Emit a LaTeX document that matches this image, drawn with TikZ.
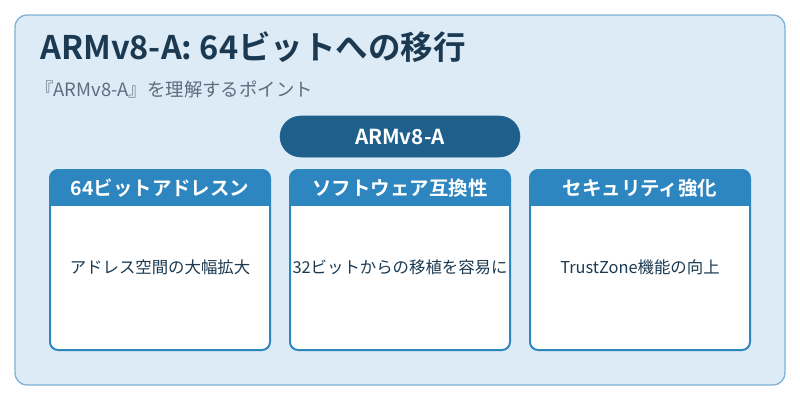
\documentclass[tikz,border=0pt]{standalone}
\usepackage{fontspec}
\setmainfont{Noto Sans CJK JP}
\newfontfamily\jpbold{Noto Sans CJK JP}[UprightFont=* Bold]
\usetikzlibrary{positioning}
\definecolor{bgblue}{HTML}{DCEBF6}
\definecolor{edgeblue}{HTML}{7FB3D5}
\definecolor{headblue}{HTML}{2E86C1}
\definecolor{pillblue}{HTML}{1F5F8B}
\definecolor{titledark}{HTML}{1B3A52}
\definecolor{subgray}{HTML}{5D6D7E}
\tikzset{
  card/.style={draw=headblue, line width=1.5pt, rounded corners=6pt},
  cardhead/.style={text=white, font=\jpbold\fontsize{14.6}{17}\selectfont},
  cardtext/.style={text=titledark, font=\fontsize{12.3}{14}\selectfont}
}
\begin{document}
\begin{tikzpicture}[x=0.75pt,y=-0.75pt]
	\useasboundingbox (0,0) rectangle (800,400);
	\draw [edgeblue, fill=bgblue, line width=1pt, rounded corners=9pt] (15,15) rectangle (785,385);
	\node [anchor=west, inner sep=0pt, text=titledark, font=\jpbold\fontsize{24.4}{28}\selectfont] (title) at (40,47) {ARMv8-A: 64ビットへの移行};
	\node [anchor=west, inner sep=0pt, text=subgray, font=\fontsize{13.8}{16}\selectfont] (sub) at (35,89) {『ARMv8-A』を理解するポイント};
	\draw [pillblue, fill=pillblue, rounded corners=15.5pt] (280,116) rectangle (520,157);
	\node [text=white, font=\jpbold\fontsize{15.5}{18}\selectfont] (pill) at (400,137) {ARMv8-A};
	% three cards
	\foreach \x/\head/\body in {50/64ビットアドレスン/アドレス空間の大幅拡大,
	                            290/ソフトウェア互換性/32ビットからの移植を容易に,
	                            530/セキュリティ強化/TrustZone機能の向上}{
		\fill [white, rounded corners=6pt] (\x,170) rectangle ++(220,180);
		\fill [headblue, rounded corners=6pt] (\x,170) rectangle ++(220,30);
		\fill [headblue] (\x,190) rectangle ++(220,16);
		\draw [card] (\x,170) rectangle ++(220,180);
		\node [cardhead] at (\x+110,188) {\head};
		\node [cardtext] at (\x+110,267) {\body};
	}
\end{tikzpicture}
\end{document}
